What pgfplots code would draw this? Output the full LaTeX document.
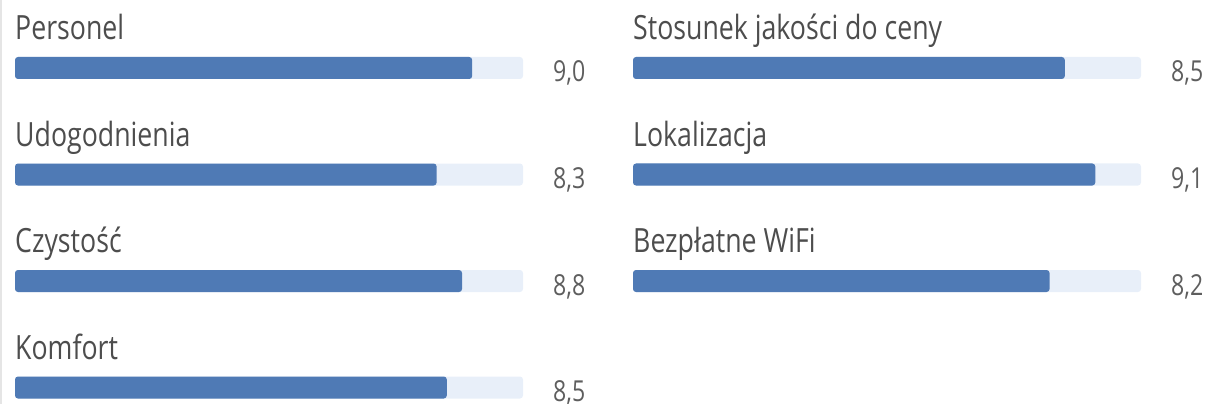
\documentclass[border=0pt]{standalone}
\usepackage{pgfplots}
\pgfplotsset{compat=1.18}
\usepackage{pgfplotstable}
\usepackage{fontspec}
\setmainfont{Open Sans}[FakeStretch=0.8]
\definecolor{barblue}{HTML}{4F7AB5}
\definecolor{track}{HTML}{E8EFF9}
\definecolor{lbl}{HTML}{4D4D4D}
\definecolor{val}{HTML}{5E5E5E}
\pgfplotstableread{
y val name
68 9.0 Personel
174.5 8.3 Udogodnienia
281 8.8 Czystość
387.5 8.5 Komfort
}\lefttab
\pgfplotstableread{
y val name
68 8.5 {Stosunek jakości do ceny}
174.5 9.1 Lokalizacja
281 8.2 {Bezpłatne WiFi}
}\righttab
\pgfplotsset{
  rowaxis/.style={
    scale only axis, width=508bp, height=404bp,
    xmin=0, xmax=10, ymin=0, ymax=404, y dir=reverse,
    hide axis, clip=false, anchor=south west,
  },
  trackbar/.style={xbar, bar width=22bp, bar shift=0pt, fill=track, draw=none, rounded corners=3bp},
  valbar/.style={xbar, bar width=22bp, bar shift=0pt, fill=barblue, draw=none, rounded corners=3bp},
  vallabel/.style={only marks, mark=none, point meta=explicit,
    nodes near coords={\pgfmathprintnumber[fixed,fixed zerofill,precision=1,use comma,assume math mode=true]{\pgfplotspointmeta}},
    nodes near coords style={anchor=base west, xshift=30bp, yshift=-14bp, inner sep=0pt, text=val, font=\fontsize{29}{29}\selectfont}},
  namelabel/.style={only marks, mark=none, point meta=explicit symbolic,
    nodes near coords={\pgfplotspointmeta},
    nodes near coords style={anchor=base west, yshift=28.5bp, inner sep=0pt, text=lbl, font=\fontsize{33.5}{33.5}\selectfont}},
}
\begin{document}
\begin{tikzpicture}[x=1bp,y=1bp]
\begin{axis}[rowaxis, at={(15bp,0bp)}]
\addplot[trackbar] table[x expr=10, y=y] {\lefttab};
\addplot[valbar] table[x=val, y=y] {\lefttab};
\addplot[vallabel] table[x expr=10, y=y, meta=val] {\lefttab};
\addplot[namelabel] table[x expr=0, y=y, meta=name] {\lefttab};
\end{axis}
\begin{axis}[rowaxis, at={(633bp,0bp)}]
\addplot[trackbar] table[x expr=10, y=y] {\righttab};
\addplot[valbar] table[x=val, y=y] {\righttab};
\addplot[vallabel] table[x expr=10, y=y, meta=val] {\righttab};
\addplot[namelabel] table[x expr=0, y=y, meta=name] {\righttab};
\end{axis}
\draw[draw=black!10, line width=1.5bp] (0.75bp,0) -- (0.75bp,404bp);
\pgfresetboundingbox
\path[use as bounding box] (0,0) rectangle (1209bp,404bp);
\end{tikzpicture}
\end{document}
